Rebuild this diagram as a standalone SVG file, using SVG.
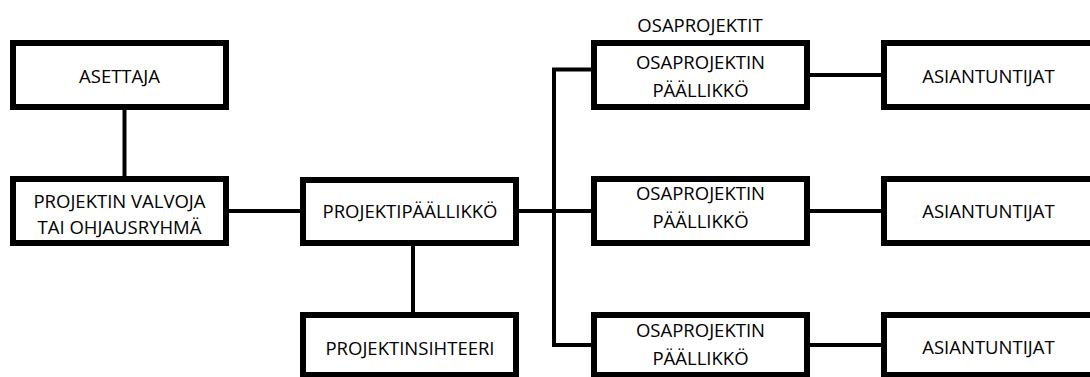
<svg xmlns="http://www.w3.org/2000/svg" width="1090" height="377" viewBox="0 0 1090 377">
  <style>
    .box { fill: #ffffff; stroke: #000000; stroke-width: 6; }
    .wire { fill: none; stroke: #000000; stroke-width: 4; stroke-linecap: butt; }
    .lbl { font-family: "Open Sans", "Liberation Sans", sans-serif; font-size: 18.5px; fill: #000000; text-anchor: middle; }
  </style>
  <rect width="1090" height="377" fill="#ffffff"/>

  <!-- connectors -->
  <g id="connectors">
    <line class="wire" x1="124.5" y1="110" x2="124.5" y2="176"/>
    <line class="wire" x1="229" y1="211" x2="300" y2="211"/>
    <line class="wire" x1="519" y1="211" x2="591" y2="211"/>
    <line class="wire" x1="413" y1="246" x2="413" y2="312"/>
    <polyline class="wire" points="591,69.5 554,69.5 554,345 591,345"/>
    <line class="wire" x1="810" y1="75" x2="881" y2="75"/>
    <line class="wire" x1="810" y1="211" x2="881" y2="211"/>
    <line class="wire" x1="810" y1="345" x2="881" y2="345"/>
  </g>

  <!-- group label -->
  <text class="lbl" x="700" y="32" id="osaprojektit-title">OSAPROJEKTIT</text>

  <g id="asettaja">
    <rect class="box" x="13" y="43" width="213" height="64"/>
    <text class="lbl" x="119.5" y="82.5">ASETTAJA</text>
  </g>

  <g id="valvoja">
    <rect class="box" x="13" y="179" width="213" height="64"/>
    <text class="lbl" x="119.5" y="208">PROJEKTIN VALVOJA</text>
    <text class="lbl" x="119.5" y="234">TAI OHJAUSRYHMÄ</text>
  </g>

  <g id="projektipaallikko">
    <rect class="box" x="303" y="180" width="213" height="63"/>
    <text class="lbl" x="410" y="218">PROJEKTIPÄÄLLIKKÖ</text>
  </g>

  <g id="projektinsihteeri">
    <rect class="box" x="303" y="315" width="213" height="60"/>
    <text class="lbl" x="410" y="355">PROJEKTINSIHTEERI</text>
  </g>

  <g id="osaprojekti-1">
    <rect class="box" x="594" y="43" width="213" height="64"/>
    <text class="lbl" x="700.5" y="69">OSAPROJEKTIN</text>
    <text class="lbl" x="700.5" y="97">PÄÄLLIKKÖ</text>
  </g>

  <g id="osaprojekti-2">
    <rect class="box" x="594" y="179" width="213" height="64"/>
    <text class="lbl" x="700.5" y="200">OSAPROJEKTIN</text>
    <text class="lbl" x="700.5" y="228">PÄÄLLIKKÖ</text>
  </g>

  <g id="osaprojekti-3">
    <rect class="box" x="594" y="315" width="213" height="60"/>
    <text class="lbl" x="700.5" y="337">OSAPROJEKTIN</text>
    <text class="lbl" x="700.5" y="365">PÄÄLLIKKÖ</text>
  </g>

  <g id="asiantuntijat-1">
    <rect class="box" x="884" y="43" width="213" height="64"/>
    <text class="lbl" x="988.5" y="83">ASIANTUNTIJAT</text>
  </g>

  <g id="asiantuntijat-2">
    <rect class="box" x="884" y="179" width="213" height="64"/>
    <text class="lbl" x="988.5" y="218">ASIANTUNTIJAT</text>
  </g>

  <g id="asiantuntijat-3">
    <rect class="box" x="884" y="315" width="213" height="60"/>
    <text class="lbl" x="988.5" y="354">ASIANTUNTIJAT</text>
  </g>
</svg>
